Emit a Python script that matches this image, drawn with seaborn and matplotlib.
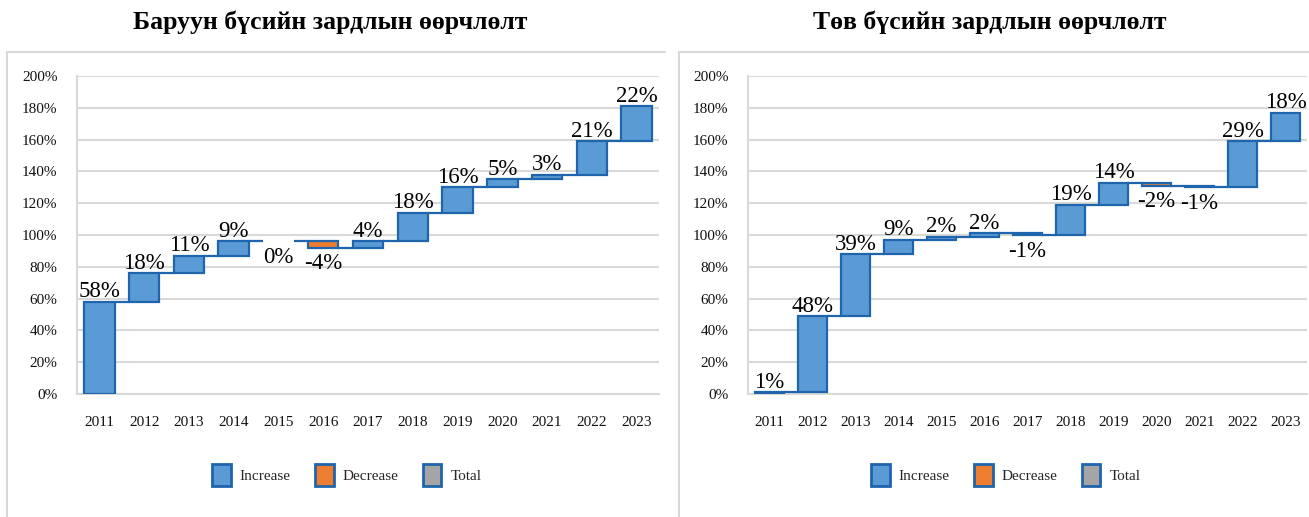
import numpy as np
import pandas as pd
import matplotlib.pyplot as plt
import seaborn as sns
from matplotlib.lines import Line2D
from matplotlib.patches import Patch
from matplotlib.ticker import PercentFormatter

# Data
years = ["2011", "2012", "2013", "2014", "2015", "2016", "2017",
         "2018", "2019", "2020", "2021", "2022", "2023"]
west_change = [58, 18, 11, 9, 0, -4, 4, 18, 16, 5, 3, 21, 22]
central_change = [1, 48, 39, 9, 2, 2, -1, 19, 14, -2, -1, 29, 18]
titles = ["Баруун бүсийн зардлын өөрчлөлт", "Төв бүсийн зардлын өөрчлөлт"]
legend_labels = ["Increase", "Decrease", "Total"]

INC = "#5B9BD5"
DEC = "#ED7D31"
TOT = "#A5A5A5"
EDGE = "#1F65AD"
GRID = "#D9D9D9"
BAR_W = 0.68

sns.set_style("white")
plt.rcParams["font.family"] = ["Liberation Serif", "DejaVu Serif"]

W, H = 1309, 517
fig = plt.figure(figsize=(W / 100, H / 100), dpi=100)


def draw_waterfall(ax, changes):
    df = pd.DataFrame({"year": years, "change": np.array(changes) / 100})
    df["end"] = df["change"].cumsum()
    df["start"] = df["end"] - df["change"]

    sns.barplot(data=df, x="year", y="change", bottom=df["start"].values,
                width=BAR_W, color=INC, edgecolor=EDGE, linewidth=1.6,
                errorbar=None, ax=ax, zorder=3)

    for p, c in zip(ax.patches, df["change"]):
        p.set_facecolor(DEC if c < 0 else INC)
        if c == 0:
            p.set_visible(False)

    # connector lines between bars
    for i in range(len(df) - 1):
        ax.plot([i + BAR_W / 2, i + 1 - BAR_W / 2], [df["end"][i]] * 2,
                color=EDGE, lw=1.6, zorder=3, solid_capstyle="butt")

    # data labels
    for i, (c, e) in enumerate(zip(changes, df["end"])):
        if c > 0:
            ax.annotate(f"{c}%", (i, e), xytext=(0, -0.5), textcoords="offset points",
                        ha="center", va="bottom", fontsize=16.5, color="black")
        else:
            ax.annotate(f"{c}%", (i, e), xytext=(0, -4), textcoords="offset points",
                        ha="center", va="top", fontsize=16.5, color="black")

    ax.set_ylim(0, 2.0)
    ax.set_xlim(-0.5, len(years) - 0.5)
    ax.set_yticks(np.arange(0, 2.01, 0.2))
    ax.yaxis.set_major_formatter(PercentFormatter(1.0, decimals=0))
    ax.grid(axis="y", color=GRID, lw=1.5)
    ax.set_axisbelow(True)
    for s in ["top", "right"]:
        ax.spines[s].set_visible(False)
    for s in ["left", "bottom"]:
        ax.spines[s].set_color(GRID)
        ax.spines[s].set_linewidth(1.5)
    ax.tick_params(axis="both", length=0, labelsize=11, colors="#111111")
    ax.tick_params(axis="x", pad=16)
    ax.tick_params(axis="y", pad=14)
    ax.set_xlabel("")
    ax.set_ylabel("")


bottom = 1 - 394 / H
height = (394 - 76) / H
ax1 = fig.add_axes([77 / W, bottom, (659 - 77) / W, height])
ax2 = fig.add_axes([748 / W, bottom, (1307 - 748) / W, height])

draw_waterfall(ax1, west_change)
draw_waterfall(ax2, central_change)

# titles
fig.text(330 / W, 1 - 22 / H, titles[0], ha="center", va="center",
         fontsize=18.5, fontweight="bold", color="black")
fig.text(990 / W, 1 - 22 / H, titles[1], ha="center", va="center",
         fontsize=18.5, fontweight="bold", color="black")

# panel borders
for xs, ys in [([7, 7], [H, 52]), ([7, 665], [52, 52]),
               ([679, 679], [H, 52]), ([679, W], [52, 52])]:
    fig.add_artist(Line2D([x / W for x in xs], [1 - y / H for y in ys],
                          transform=fig.transFigure, color=GRID, lw=1.5))

# legends
handles = [Patch(facecolor=col, edgecolor=EDGE, linewidth=2)
           for col in [INC, DEC, TOT]]
for cx in [347, 1006]:
    fig.legend(handles, legend_labels, loc="center",
               bbox_to_anchor=(cx / W, 1 - 475 / H), ncol=3, frameon=False,
               fontsize=11, handlelength=1.2, handleheight=1.9,
               handletextpad=0.6, columnspacing=1.6)

fig.savefig("out.png", dpi=100)
